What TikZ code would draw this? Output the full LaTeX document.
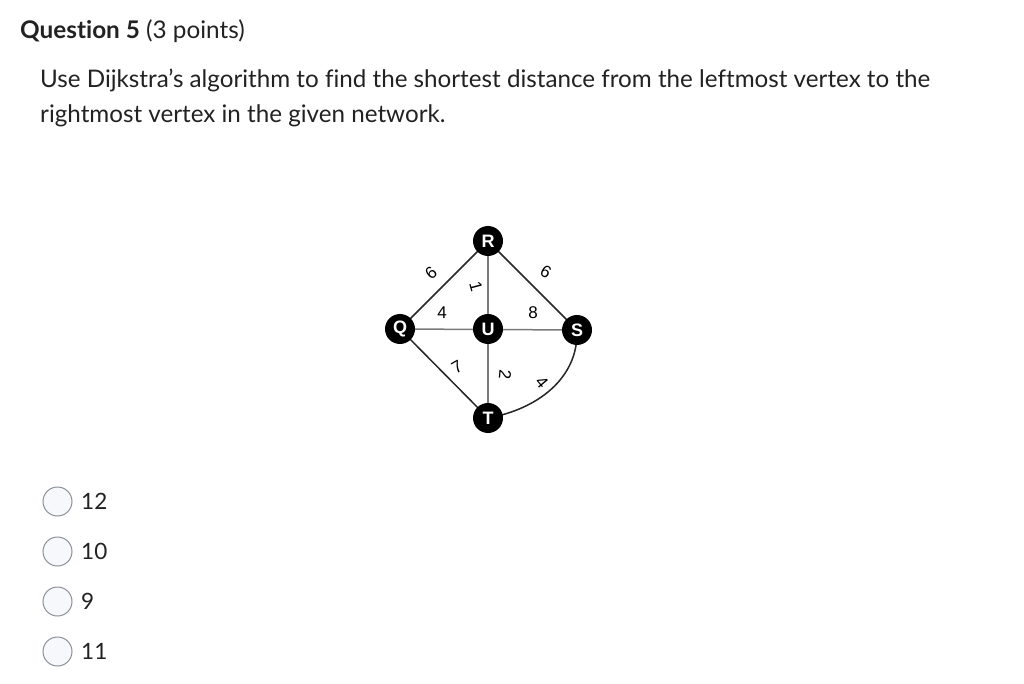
\documentclass[tikz,border=0pt]{standalone}
\usepackage{fontspec}
\setmainfont{Lato}[Ligatures=NoCommon]
\newfontfamily\arialfont{Liberation Sans}
\usetikzlibrary{arrows.meta,positioning,calc}
\usepackage{xcolor}

\definecolor{radiofill}{HTML}{F6F8FC}
\definecolor{radioline}{HTML}{8A8F98}
\definecolor{edgegray}{HTML}{7A7A7A}
\definecolor{inktext}{HTML}{222222}

\tikzset{
  vtx/.style={circle,fill=black,minimum size=30pt,inner sep=0pt,text=white,
    font=\arialfont\bfseries\fontsize{18}{18}\selectfont},
  wt/.style={font=\arialfont\fontsize{17}{17}\selectfont,inner sep=0pt},
  straight/.style={edgegray,line width=1.5pt},
  slanted/.style={black!85,line width=1.5pt},
  radio/.style={circle,draw=radioline,fill=radiofill,line width=1pt,minimum size=29pt,inner sep=0pt},
  qtext/.style={anchor=base west,inner sep=0pt,text=inktext,font=\fontsize{24.2}{28}\selectfont}
}

\begin{document}
\begin{tikzpicture}[x=1pt,y=-1pt,>=Latex]
\useasboundingbox[fill=white] (0,0) rectangle (1024,684);
\node[qtext,font=\fontsize{24.3}{28}\selectfont] (title) at (20,38.5) {\textbf{Question 5} (3 points)};
\node[qtext] (line1) at (40,87.5) {Use Dijkstra’s algorithm to find the shortest distance from the leftmost vertex to the};
\node[qtext] (line2) at (40,122.5) {rightmost vertex in the given network.};

\draw[slanted] (400,329) -- (488,241);
\draw[slanted] (488,241) -- (577,330);
\draw[slanted] (400,329) -- (488,418);
\draw[slanted] (577,330) to[out=-88,in=10] (488,418);
\draw[straight] (400,329) -- (577,330);
\draw[straight] (488,241) -- (488,418);

\node[vtx] (R) at (488,241) {R};
\node[vtx] (Q) at (400,329) {Q};
\node[vtx] (U) at (488,329) {U};
\node[vtx] (S) at (577,330) {S};
\node[vtx] (T) at (488,418) {T};

\node[wt,rotate=40] (wQR) at (431,273) {6};
\node[wt,rotate=-75] (wRU) at (476,287) {1};
\node[wt] (wQU) at (442,313) {4};
\node[wt] (wUS) at (533,313) {8};
\node[wt,rotate=-30] (wRS) at (546,272) {6};
\node[wt,rotate=30] (wQT) at (457,367) {7};
\node[wt,rotate=-95] (wUT) at (505,375) {2};
\node[wt,rotate=-50] (wST) at (542,382) {4};

\foreach \v [count=\i] in {12,10,9,11} {
  \node[radio] (opt\i) at (57.5,451.5+50*\i) {};
  \node[anchor=west,inner sep=0pt,text=inktext,font=\fontsize{22.5}{26}\selectfont] (val\i) at (81,451.5+50*\i) {\v};
}
\end{tikzpicture}
\end{document}
